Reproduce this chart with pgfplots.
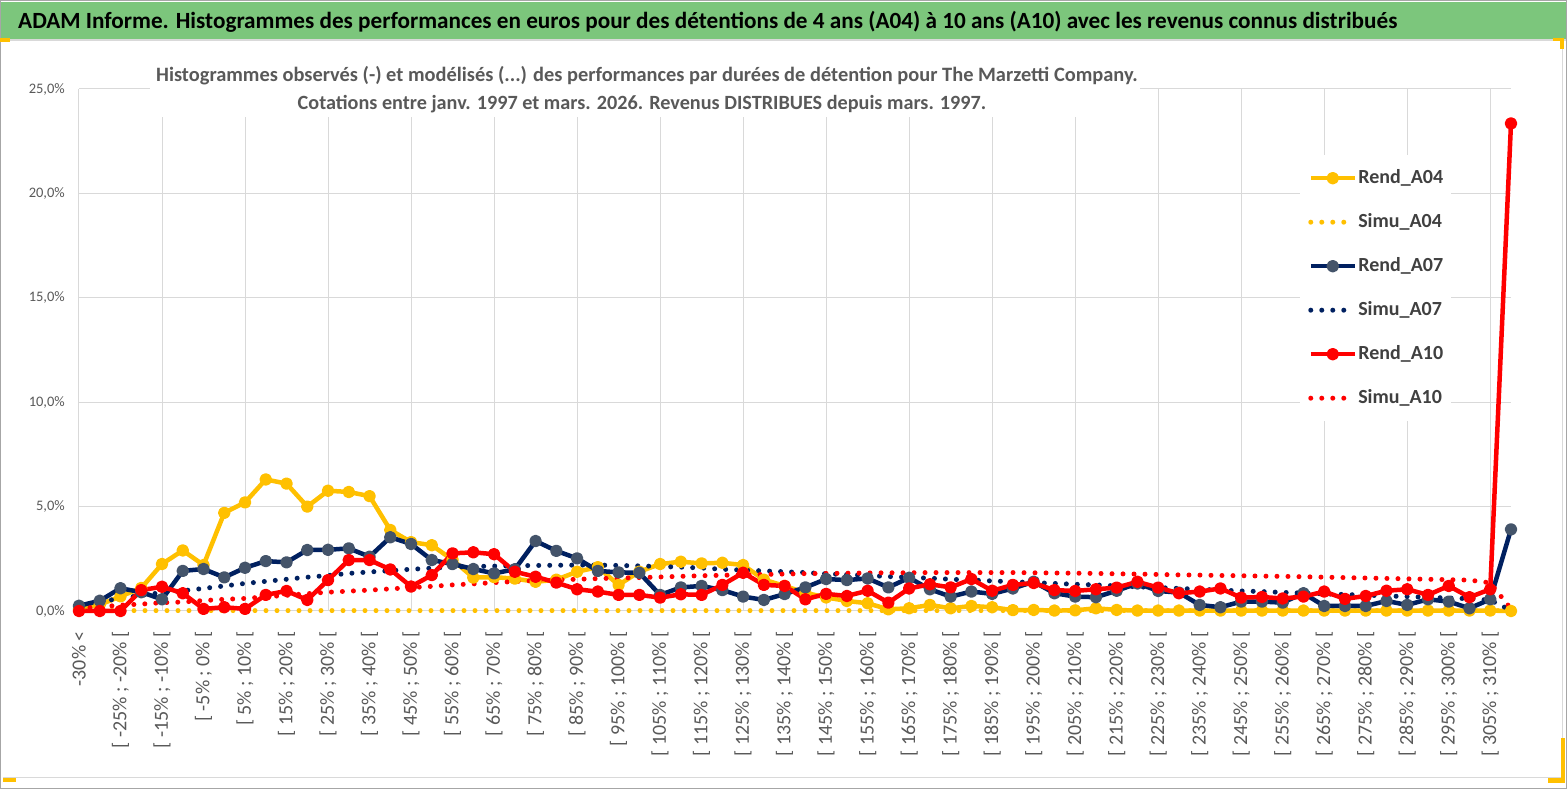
\documentclass[border=0pt]{standalone}
\usepackage{fontspec}
\setmainfont{Carlito}
\usepackage{pgfplots}
\pgfplotsset{compat=1.18}
\usepackage{pgfplotstable}

\definecolor{cyel}{RGB}{255,192,0}
\definecolor{cnavy}{RGB}{0,32,96}
\definecolor{cred}{RGB}{255,0,0}
\definecolor{cslate}{RGB}{68,84,106}
\definecolor{cgrid}{RGB}{217,217,217}
\definecolor{ctxt}{RGB}{89,89,89}
\definecolor{cleg}{RGB}{64,64,64}
\definecolor{cgreen}{RGB}{124,198,124}

\pgfplotstableread{
k rA04 sA04 rA07 sA07 rA10 sA10
0 0.10 0.02 0.25 0.25 0.00 0.12
1 0.30 0.02 0.49 0.45 0.00 0.20
2 0.70 0.02 1.09 0.60 0.00 0.28
3 1.10 0.02 0.90 0.75 1.00 0.33
4 2.25 0.02 0.56 0.88 1.16 0.40
5 2.90 0.02 1.92 0.97 0.85 0.43
6 2.20 0.02 2.01 1.08 0.10 0.50
7 4.70 0.02 1.61 1.20 0.18 0.56
8 5.20 0.02 2.07 1.32 0.10 0.60
9 6.30 0.02 2.39 1.42 0.77 0.68
10 6.10 0.02 2.33 1.52 0.96 0.75
11 5.00 0.02 2.92 1.62 0.53 0.83
12 5.76 0.02 2.93 1.70 1.48 0.90
13 5.70 0.02 3.00 1.80 2.44 0.95
14 5.50 0.02 2.60 1.87 2.44 1.00
15 3.88 0.02 3.53 1.93 1.99 1.06
16 3.30 0.02 3.21 2.00 1.17 1.12
17 3.15 0.02 2.44 2.05 1.72 1.18
18 2.45 0.02 2.25 2.10 2.76 1.25
19 1.60 0.02 2.01 2.13 2.81 1.30
20 1.62 0.02 1.80 2.15 2.72 1.36
21 1.55 0.02 2.00 2.17 1.88 1.41
22 1.40 0.02 3.35 2.18 1.64 1.46
23 1.50 0.02 2.88 2.19 1.36 1.49
24 1.88 0.02 2.52 2.20 1.04 1.52
25 2.10 0.02 1.92 2.20 0.93 1.55
26 1.25 0.02 1.85 2.18 0.77 1.58
27 1.88 0.02 1.83 2.16 0.77 1.60
28 2.25 0.02 0.77 2.13 0.64 1.63
29 2.36 0.02 1.13 2.10 0.80 1.66
30 2.28 0.02 1.20 2.06 0.77 1.69
31 2.31 0.02 1.00 2.00 1.25 1.71
32 2.20 0.02 0.69 1.96 1.83 1.73
33 1.50 0.02 0.53 1.92 1.25 1.75
34 1.20 0.02 0.81 1.88 1.20 1.77
35 0.87 0.02 1.13 1.84 0.56 1.79
36 0.65 0.02 1.53 1.78 0.82 1.80
37 0.48 0.02 1.48 1.74 0.72 1.81
38 0.37 0.02 1.56 1.70 0.97 1.82
39 0.08 0.02 1.13 1.65 0.40 1.83
40 0.13 0.02 1.59 1.61 1.08 1.83
41 0.29 0.02 1.04 1.57 1.28 1.84
42 0.13 0.02 0.69 1.52 1.13 1.84
43 0.24 0.02 0.93 1.48 1.53 1.84
44 0.18 0.02 0.82 1.44 0.97 1.84
45 0.04 0.02 1.08 1.40 1.25 1.84
46 0.05 0.02 1.40 1.36 1.34 1.83
47 0.02 0.02 0.85 1.32 1.00 1.82
48 0.03 0.02 0.69 1.28 0.96 1.81
49 0.13 0.02 0.66 1.25 1.04 1.80
50 0.05 0.02 0.97 1.20 1.12 1.78
51 0.02 0.02 1.32 1.16 1.40 1.77
52 0.02 0.02 0.96 1.12 1.12 1.75
53 0.02 0.02 0.88 1.08 0.85 1.73
54 0.02 0.02 0.29 1.04 0.93 1.72
55 0.02 0.02 0.18 1.00 1.08 1.70
56 0.02 0.02 0.45 0.96 0.64 1.69
57 0.02 0.02 0.45 0.93 0.67 1.67
58 0.02 0.02 0.40 0.89 0.60 1.66
59 0.02 0.02 0.85 0.86 0.69 1.64
60 0.02 0.02 0.24 0.82 0.93 1.62
61 0.02 0.02 0.24 0.79 0.58 1.60
62 0.02 0.02 0.24 0.76 0.72 1.58
63 0.02 0.02 0.48 0.72 0.97 1.56
64 0.02 0.02 0.29 0.69 1.04 1.54
65 0.02 0.02 0.56 0.66 0.77 1.52
66 0.02 0.02 0.45 0.62 1.20 1.50
67 0.02 0.02 0.13 0.59 0.66 1.48
68 0.02 0.02 0.56 0.52 1.04 1.35
69 0.00 0.00 3.91 0.03 23.35 0.10
}\datatable

\begin{document}
\begin{tikzpicture}[x=1pt,y=1pt]
\useasboundingbox (0,0) rectangle (1567,789);
\fill[white] (0,0) rectangle (1567,789);
% title band
\fill[cgreen] (1,750) rectangle (1566,787);
\draw[cgrid, line width=1.5pt] (1,749) -- (1566,749);
\node[anchor=base west, inner sep=0pt, font=\fontsize{23.2}{27}\selectfont\bfseries, text=black] at (18,760)
 {ADAM Informe. Histogrammes des performances en euros pour des détentions de 4 ans (A04) à 10 ans (A10) avec les revenus connus distribués};
% chart frame
\draw[cgrid, line width=1pt] (3,11) -- (1562,11) -- (1562,748);
\draw[gray!70, line width=1pt] (0.5,0.5) rectangle (1566.5,788.5);
\begin{axis}[
  at={(79pt,178pt)}, anchor=south west,
  scale only axis, width=1432pt, height=522pt,
  xmin=0, xmax=69, ymin=0, ymax=25,
  clip=false,
  axis line style={draw=none},
  tick style={draw=none},
  major tick length=0pt,
  ytick={0,5,...,25},
  yticklabels={{0,0\%},{5,0\%},{10,0\%},{15,0\%},{20,0\%},{25,0\%}},
  ymajorgrids=true,
  grid style={cgrid, line width=1pt},
  xtick={0,2,...,68},
  xticklabels={
   {-30\% <},
   {{[} -25\% ; -20\% {[}},{{[} -15\% ; -10\% {[}},{{[} -5\% ; 0\% {[}},
   {{[} 5\% ; 10\% {[}},{{[} 15\% ; 20\% {[}},{{[} 25\% ; 30\% {[}},
   {{[} 35\% ; 40\% {[}},{{[} 45\% ; 50\% {[}},{{[} 55\% ; 60\% {[}},
   {{[} 65\% ; 70\% {[}},{{[} 75\% ; 80\% {[}},{{[} 85\% ; 90\% {[}},
   {{[} 95\% ; 100\% {[}},{{[} 105\% ; 110\% {[}},{{[} 115\% ; 120\% {[}},
   {{[} 125\% ; 130\% {[}},{{[} 135\% ; 140\% {[}},{{[} 145\% ; 150\% {[}},
   {{[} 155\% ; 160\% {[}},{{[} 165\% ; 170\% {[}},{{[} 175\% ; 180\% {[}},
   {{[} 185\% ; 190\% {[}},{{[} 195\% ; 200\% {[}},{{[} 205\% ; 210\% {[}},
   {{[} 215\% ; 220\% {[}},{{[} 225\% ; 230\% {[}},{{[} 235\% ; 240\% {[}},
   {{[} 245\% ; 250\% {[}},{{[} 255\% ; 260\% {[}},{{[} 265\% ; 270\% {[}},
   {{[} 275\% ; 280\% {[}},{{[} 285\% ; 290\% {[}},{{[} 295\% ; 300\% {[}},
   {{[} 305\% ; 310\% {[}}},
  extra x ticks={0,4,...,68},
  extra x tick labels={},
  extra x tick style={xmajorgrids=true, grid style={cgrid, line width=1pt}},
  yticklabel style={font=\fontsize{14.5}{16}\selectfont, text=ctxt, anchor=east, inner sep=0pt, xshift=-14pt},
  xticklabel style={font=\fontsize{20}{22}\selectfont, text=ctxt, yshift=-20pt, rotate=90, anchor=east, inner sep=0pt},
  legend cell align=left,
  legend style={at={(0.8527,0.8736)}, anchor=north west, draw=none, fill=white,
    inner xsep=8pt, inner ysep=14pt, row sep=26pt, column sep=1pt,
    nodes={inner sep=0pt, text height=14pt, text depth=4pt, text=cleg,
      font=\fontsize{20}{22}\selectfont\bfseries}},
  legend image code/.code={\draw[mark repeat=2,mark phase=2,#1] plot coordinates {(0pt,0pt) (22pt,0pt) (44pt,0pt)};},
  solid/.style={line width=4.5pt, line join=round, mark=*, mark size=4pt},
  dots/.style={line width=5pt, line cap=round, dash pattern=on 0pt off 11pt},
]
\addplot[solid, color=cyel, mark options={fill=cyel, draw=cyel}] table[x=k, y=rA04] {\datatable};
\addlegendentry{Rend\_A04}
\addplot[dots, color=cyel] table[x=k, y=sA04] {\datatable};
\addlegendentry{Simu\_A04}
\addplot[solid, color=cnavy, mark options={fill=cslate, draw=cslate}] table[x=k, y=rA07] {\datatable};
\addlegendentry{Rend\_A07}
\addplot[dots, color=cnavy] table[x=k, y=sA07] {\datatable};
\addlegendentry{Simu\_A07}
\addplot[solid, color=cred, mark options={fill=cred, draw=cred}] table[x=k, y=rA10] {\datatable};
\addlegendentry{Rend\_A10}
\addplot[dots, color=cred] table[x=k, y=sA10] {\datatable};
\addlegendentry{Simu\_A10}
\end{axis}
% subtitle
\fill[white] (150,672) rectangle (1140,731);
\node[anchor=base, inner sep=0pt, font=\fontsize{20.4}{24}\selectfont\bfseries, text=ctxt] at (647,707)
 {Histogrammes observés (-) et modélisés (...) des performances par durées de détention pour The Marzetti Company.};
\node[anchor=base, inner sep=0pt, font=\fontsize{20.2}{24}\selectfont\bfseries, text=ctxt] at (642,679)
 {Cotations entre janv. 1997 et mars. 2026. Revenus DISTRIBUES depuis mars. 1997.};
% selection handles
\fill[cyel] (0,747) rectangle (10,751);
\fill[cyel] (1553,748) rectangle (1563,751);
\fill[cyel] (1560,740) rectangle (1564,751);
\fill[cyel] (3,7) rectangle (16,11);
\fill[cyel] (1548,6) rectangle (1565,11);
\fill[cyel] (1561,6) rectangle (1565,51);
\end{tikzpicture}
\end{document}
